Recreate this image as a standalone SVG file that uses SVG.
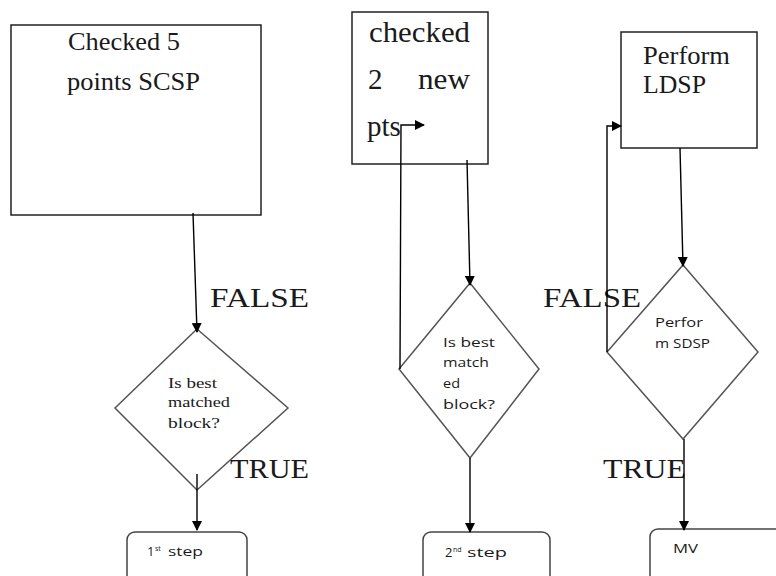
<svg xmlns="http://www.w3.org/2000/svg" width="776" height="576" viewBox="0 0 776 576">
<defs>
<marker id="ah" markerWidth="10" markerHeight="10" refX="9" refY="5" orient="auto" markerUnits="userSpaceOnUse">
<path d="M0,0 L10,5 L0,10 Z" fill="#000"/>
</marker>
<style>
.box{fill:#fff;stroke:#222;stroke-width:1.5}
.dia{fill:#fff;stroke:#555;stroke-width:1.5}
.rbox{fill:#fff;stroke:#444;stroke-width:1.5}
.con{fill:none;stroke:#000;stroke-width:1.4}
.ser{font-family:"Liberation Serif",serif;fill:#1a1a1a}
.san{font-family:"Open Sans","Liberation Sans",sans-serif;fill:#1a1a1a}
.lab{font-family:"Liberation Serif",serif;font-size:28px;fill:#1a1a1a}
</style>
</defs>
<rect width="776" height="576" fill="#fff"/>

<g id="box1">
<rect class="box" x="11" y="25" width="250" height="190"/>
<text class="ser" font-size="25" x="68" y="50" textLength="112" lengthAdjust="spacingAndGlyphs">Checked 5</text>
<text class="ser" font-size="25" x="67" y="90" textLength="133" lengthAdjust="spacingAndGlyphs">points SCSP</text>
</g>
<g id="dia1">
<polygon class="dia" points="197,329 288,408 197,490 115,408"/>
<text class="ser" font-size="15" x="168" y="388" textLength="49" lengthAdjust="spacingAndGlyphs">Is best</text>
<text class="ser" font-size="15" x="168" y="407" textLength="62" lengthAdjust="spacingAndGlyphs">matched</text>
<text class="ser" font-size="15" x="168" y="428" textLength="52" lengthAdjust="spacingAndGlyphs">block?</text>
</g>
<g id="step1">
<rect class="rbox" x="127" y="532" width="120" height="60" rx="8"/>
<text class="san" font-size="13" x="147" y="556">1</text>
<text class="san" font-size="7" x="155" y="551">st</text>
<text class="san" font-size="13" x="168" y="556" textLength="35" lengthAdjust="spacingAndGlyphs">step</text>
</g>

<g id="box2">
<rect class="box" x="352" y="12" width="136" height="152"/>
<text class="ser" font-size="29" x="369" y="42" textLength="101" lengthAdjust="spacingAndGlyphs">checked</text>
<text class="ser" font-size="29" x="368" y="89">2</text>
<text class="ser" font-size="29" x="418" y="89" textLength="52" lengthAdjust="spacingAndGlyphs">new</text>
<text class="ser" font-size="29" x="367" y="136">pts</text>
</g>
<g id="dia2">
<polygon class="dia" points="470,283 539,369 470,458 399,369"/>
<text class="san" font-size="13" x="443" y="347" textLength="52" lengthAdjust="spacingAndGlyphs">Is best</text>
<text class="san" font-size="13" x="443" y="367" textLength="46" lengthAdjust="spacingAndGlyphs">match</text>
<text class="san" font-size="13" x="443" y="388" textLength="17" lengthAdjust="spacingAndGlyphs">ed</text>
<text class="san" font-size="13" x="443" y="409" textLength="52" lengthAdjust="spacingAndGlyphs">block?</text>
</g>
<g id="step2">
<rect class="rbox" x="423" y="532" width="127" height="60" rx="8"/>
<text class="san" font-size="13" x="445" y="557">2</text>
<text class="san" font-size="7" x="453" y="552">nd</text>
<text class="san" font-size="13" x="467" y="557" textLength="40" lengthAdjust="spacingAndGlyphs">step</text>
</g>

<g id="box3">
<rect class="box" x="621" y="32" width="136" height="116"/>
<text class="ser" font-size="25" x="643" y="64" textLength="87" lengthAdjust="spacingAndGlyphs">Perform</text>
<text class="ser" font-size="25" x="643" y="93" textLength="63" lengthAdjust="spacingAndGlyphs">LDSP</text>
</g>
<g id="dia3">
<polygon class="dia" points="683,265 758,352 683,439 607,352"/>
<text class="san" font-size="13" x="655" y="327" textLength="48" lengthAdjust="spacingAndGlyphs">Perfor</text>
<text class="san" font-size="13" x="655" y="348" textLength="55" lengthAdjust="spacingAndGlyphs">m SDSP</text>
</g>
<g id="mv">
<rect class="rbox" x="650" y="529" width="150" height="60" rx="8"/>
<text class="san" font-size="12" x="673" y="553" textLength="25" lengthAdjust="spacingAndGlyphs">MV</text>
</g>

<g id="labels">
<text class="lab" x="210" y="307" textLength="99" lengthAdjust="spacingAndGlyphs">FALSE</text>
<text class="lab" x="230" y="478" textLength="79" lengthAdjust="spacingAndGlyphs">TRUE</text>
<text class="lab" x="543" y="307" textLength="98" lengthAdjust="spacingAndGlyphs">FALSE</text>
<text class="lab" x="603" y="478" textLength="83" lengthAdjust="spacingAndGlyphs">TRUE</text>
</g>

<g id="connectors">
<path class="con" d="M193,213 L197,332" marker-end="url(#ah)"/>
<path class="con" d="M197,474 L197,530" marker-end="url(#ah)"/>
<path class="con" d="M467,160 L470,285" marker-end="url(#ah)"/>
<path class="con" d="M470,458 L470,532" marker-end="url(#ah)"/>
<path class="con" d="M400,369 L401,125 L424,125" marker-end="url(#ah)"/>
<path class="con" d="M680,148 L683,266" marker-end="url(#ah)"/>
<path class="con" d="M684,439 L684,530" marker-end="url(#ah)" stroke="#333" stroke-width="2"/>
<path class="con" d="M607,352 L607,126 L621,126" marker-end="url(#ah)"/>
</g>
</svg>
